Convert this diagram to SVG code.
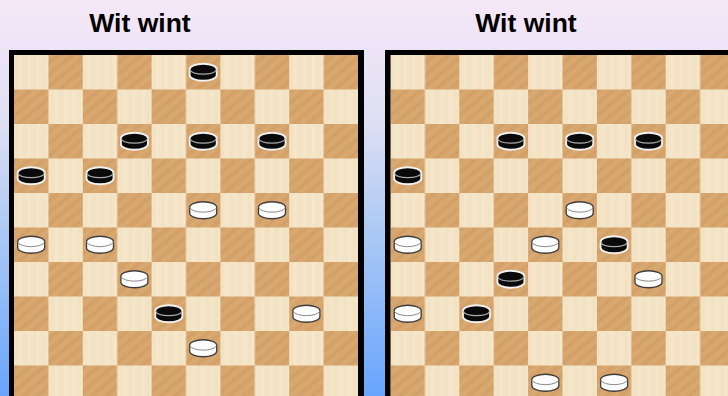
<svg xmlns="http://www.w3.org/2000/svg" xmlns:xlink="http://www.w3.org/1999/xlink" width="728" height="396" viewBox="0 0 728 396">
  <defs>
    <linearGradient id="bg" x1="0" y1="0" x2="0" y2="1">
      <stop offset="0" stop-color="#f5e8f8"/>
      <stop offset="0.3" stop-color="#dfdff3"/>
      <stop offset="0.6" stop-color="#a9c8f5"/>
      <stop offset="1" stop-color="#68a5fd"/>
    </linearGradient>
    <pattern id="grainDark" patternUnits="userSpaceOnUse" width="9" height="9" patternTransform="rotate(-40)">
      <rect width="9" height="9" fill="#d6a56d"/>
      <line x1="0" y1="1.5" x2="9" y2="1.5" stroke="#c48e54" stroke-width="1.2" opacity="0.45"/>
      <line x1="0" y1="6" x2="9" y2="6" stroke="#e0b57d" stroke-width="1.5" opacity="0.4"/>
    </pattern>
    <pattern id="grainLight" patternUnits="userSpaceOnUse" width="9" height="12">
      <rect width="9" height="12" fill="#f4e4c6"/>
      <line x1="2" y1="0" x2="2" y2="12" stroke="#ecdbb9" stroke-width="1" opacity="0.5"/>
      <line x1="6" y1="0" x2="6" y2="12" stroke="#f8ebd3" stroke-width="1.5" opacity="0.5"/>
    </pattern>
    <pattern id="checker" patternUnits="userSpaceOnUse" width="68.8" height="69">
      <rect width="68.8" height="69" fill="url(#grainLight)"/>
      <rect x="34.4" y="0" width="34.4" height="34.5" fill="url(#grainDark)"/>
      <rect x="0" y="34.5" width="34.4" height="34.5" fill="url(#grainDark)"/>
    </pattern>
    <g id="bp">
      <path d="M-13.5,-3 v6 a13.5,5.5 0 0 0 27,0 v-6 a13.5,5.5 0 0 0 -27,0 z" fill="#0a0a0a" stroke="#f2f2f2" stroke-width="1.8"/>
      <path d="M-13.3,-2.5 a13.5,5.3 0 0 0 26.6,0" fill="none" stroke="#a8a8a8" stroke-width="1.1"/>
    </g>
    <g id="wp">
      <path d="M-13.5,-3 v6 a13.5,5.5 0 0 0 27,0 v-6 a13.5,5.5 0 0 0 -27,0 z" fill="#fdfdfd" stroke="#3c3c3c" stroke-width="1.3"/>
      <path d="M-13.3,-2.5 a13.5,5.3 0 0 0 26.6,0" fill="none" stroke="#8c8c8c" stroke-width="1"/>
    </g>
    <style>
      .title { font-family: "Liberation Sans", Arial, sans-serif; font-weight: bold; font-size: 26.5px; fill: #000; text-anchor: middle; }
    </style>
  </defs>

  <rect width="728" height="396" fill="url(#bg)"/>

  <text class="title" x="140" y="32">Wit wint</text>
  <text class="title" x="526" y="32">Wit wint</text>

  <g id="board-left">
    <rect x="9" y="50" width="355" height="360" fill="#000"/>
    <g transform="translate(14,55)">
      <rect width="344" height="345" fill="url(#checker)"/>
      <use href="#bp" x="189.2" y="17.25"/>
      <use href="#bp" x="120.4" y="86.25"/>
      <use href="#bp" x="189.2" y="86.25"/>
      <use href="#bp" x="258" y="86.25"/>
      <use href="#bp" x="17.2" y="120.75"/>
      <use href="#bp" x="86" y="120.75"/>
      <use href="#wp" x="189.2" y="155.25"/>
      <use href="#wp" x="258" y="155.25"/>
      <use href="#wp" x="17.2" y="189.75"/>
      <use href="#wp" x="86" y="189.75"/>
      <use href="#wp" x="120.4" y="224.25"/>
      <use href="#bp" x="154.8" y="258.75"/>
      <use href="#wp" x="292.4" y="258.75"/>
      <use href="#wp" x="189.2" y="293.25"/>
    </g>
  </g>

  <g id="board-right">
    <rect x="385" y="50" width="360" height="360" fill="#000"/>
    <g transform="translate(390.5,55)">
      <rect width="344" height="345" fill="url(#checker)"/>
      <use href="#bp" x="120.4" y="86.25"/>
      <use href="#bp" x="189.2" y="86.25"/>
      <use href="#bp" x="258" y="86.25"/>
      <use href="#bp" x="17.2" y="120.75"/>
      <use href="#wp" x="189.2" y="155.25"/>
      <use href="#wp" x="17.2" y="189.75"/>
      <use href="#wp" x="154.8" y="189.75"/>
      <use href="#bp" x="223.6" y="189.75"/>
      <use href="#bp" x="120.4" y="224.25"/>
      <use href="#wp" x="258" y="224.25"/>
      <use href="#wp" x="17.2" y="258.75"/>
      <use href="#bp" x="86" y="258.75"/>
      <use href="#wp" x="154.8" y="327.75"/>
      <use href="#wp" x="223.6" y="327.75"/>
    </g>
  </g>
</svg>
